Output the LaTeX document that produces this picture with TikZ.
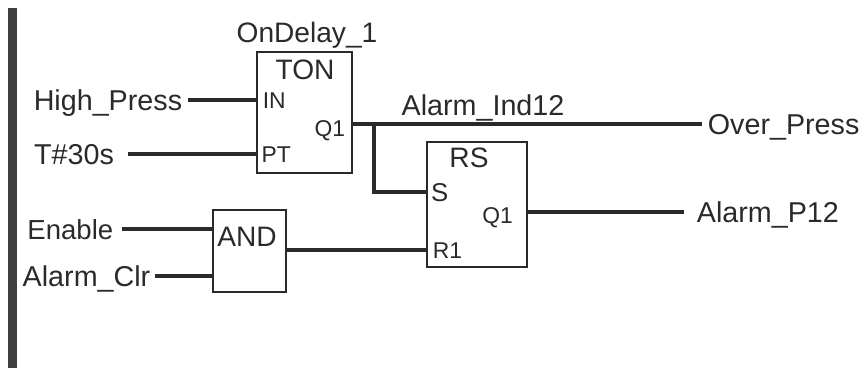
\documentclass[tikz,border=0pt]{standalone}
\usepackage{fontspec}
\setmainfont{Liberation Sans}
\usepackage{xcolor}
\usepackage{tikz}
\usetikzlibrary{calc}
\definecolor{ink}{HTML}{2A2A2A}

\begin{document}
\begin{tikzpicture}[
			x=0.03cm, y=-0.03cm,
			signal/.style={inner xsep=0pt, inner ysep=0pt, outer sep=0pt, text=ink, text height=17.5pt, text depth=0pt, font=\fontsize{24.5}{28}\selectfont},
			pinlabel/.style={inner xsep=0pt, inner ysep=0pt, outer sep=0pt, text=ink, text height=14pt, text depth=0pt, font=\fontsize{19.5}{23}\selectfont},
			title/.style={inner sep=0pt, outer sep=0pt, text=ink, text height=17pt, text depth=0pt, font=\fontsize{24}{28}\selectfont},
			block/.style={draw=ink, fill=white, line width=2.1pt, inner sep=0pt, outer sep=0pt},
			wire/.style={draw=ink, line width=2.7pt}
			]
			\useasboundingbox (0,0) rectangle (864,368);
			
			% rail
			\fill[ink!90] (8,8) rectangle (17,368);
			
			% blocks
			\node[block, minimum width=2.85cm, minimum height=3.63cm] (TON) at (304.5,112.5) {};
			\node[block, minimum width=2.19cm, minimum height=2.46cm] (ANDgate) at (249.5,251) {};
			\node[block, minimum width=3.00cm, minimum height=3.75cm] (RS) at (477,204.5) {};
			
			% block titles
			\node[title] (OnDelay) at (307,33) {OnDelay\_1};
			\node[title] at (305,70) (TONname) {TON};
			\node[title] at (247,237) (ANDname) {AND};
			\node[title] at (469,158) (RSname) {RS};
			
			% pins of TON
			\node[pinlabel, anchor=west, inner xsep=5pt] (IN) at (TON.west |- 0,100) {IN};
			\node[pinlabel, anchor=west, inner xsep=4pt] (PT) at (TON.west |- 0,154) {PT};
			\node[pinlabel, anchor=east, inner xsep=6pt] (Q1ton) at (TON.east |- 0,128) {Q1};
			
			% pins of RS
			\node[pinlabel, anchor=west, inner xsep=3.5pt, font=\fontsize{22}{26}\selectfont, text height=15.5pt] (S) at (RS.west |- 0,192) {S};
			\node[pinlabel, anchor=west, inner xsep=5pt] (R1) at (RS.west |- 0,250) {R1};
			\node[pinlabel, anchor=east, inner xsep=12pt] (Q1rs) at (RS.east |- 0,215) {Q1};
			
			% signals, left side
			\node[signal, anchor=east, inner xsep=5pt] (HighPress) at (188,100) {High\_Press};
			\node[signal, anchor=east, inner xsep=12pt] (Tpreset) at (128,154) {T\#30s};
			\node[signal, anchor=east, inner xsep=7.5pt, font=\fontsize{23.5}{28}\selectfont] (Enable) at (122,229) {Enable};
			\node[signal, anchor=east, inner xsep=4pt] (AlarmClr) at (155,276) {Alarm\_Clr};
			
			% signals, right side
			\node[signal, anchor=west, inner xsep=5pt] (OverPress) at (702,124) {Over\_Press};
			\node[signal, anchor=west, inner xsep=11pt] (AlarmPout) at (684,212) {Alarm\_P12};
			\node[signal] (AlarmInd) at (483,105) {Alarm\_Ind12};
			
			% wires
			\coordinate (Branch) at (374,124);
			\draw[wire] (HighPress.east) -- (IN.west);
			\draw[wire] (Tpreset.east) -- (PT.west);
			\draw[wire] (TON.east |- OverPress.west) -- (OverPress.west);
			\draw[wire] (Branch) |- (S.west);
			\draw[wire] (Enable.east) -- (Enable.east -| ANDgate.west);
			\draw[wire] (AlarmClr.east) -- (AlarmClr.east -| ANDgate.west);
			\draw[wire] (ANDgate.east |- R1.west) -- (R1.west);
			\draw[wire] (RS.east |- AlarmPout.west) -- (AlarmPout.west);
			
		\end{tikzpicture}
\end{document}
